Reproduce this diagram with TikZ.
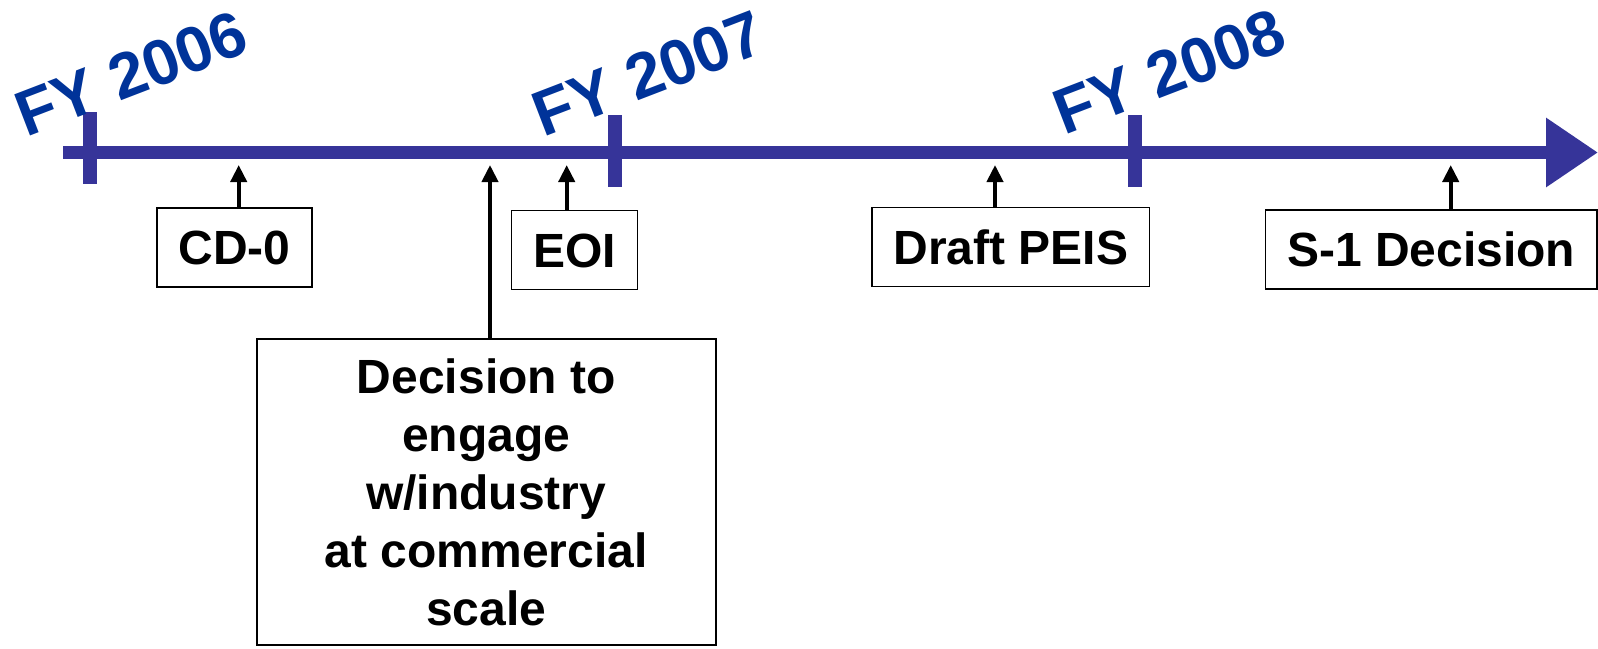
\documentclass[tikz,border=0pt]{standalone}
\usepackage{fontspec}
\setmainfont{Liberation Sans}
\usetikzlibrary{arrows.meta}
\definecolor{axisblue}{RGB}{54,52,153}
\definecolor{yearblue}{RGB}{0,51,153}

\begin{document}
\begin{tikzpicture}[
  x=0.5pt, y=-0.5pt,
  event/.style={draw, line width=0.8pt, inner sep=0pt,
    font=\fontsize{24}{29}\selectfont\bfseries},
  short event/.style={event, minimum height=39.5pt, inner xsep=10.75pt,
    text height=17.2pt, text depth=0pt},
  long event/.style={event, align=center, minimum width=229.5pt, minimum height=153pt},
  year/.style={anchor=base west, inner sep=0pt, rotate=21, text=yearblue,
    font=\fontsize{32}{32}\selectfont\bfseries},
  yeartick/.style={draw=axisblue, line width=7pt},
  pointer/.style={line width=2pt, -{Triangle[length=8.5pt,width=8pt]}},
]
  \useasboundingbox (0,0) rectangle (1598,648);

  \coordinate (start) at (63,152.5);
  \coordinate (end) at (1598,152.5);
  \draw[axisblue, line width=6.65pt, -{Triangle[length=26pt,width=33pt]}] (start) -- (end);

  \foreach \fy/\x/\top/\lx/\ly in {2006/89.7/112/26/137.6, 2007/615/115/543/137.6,
                                    2008/1135/115/1064/135.6} {
    \coordinate (t\fy) at (\x,\top);
    \coordinate (b\fy) at (\x,\top+72);
    \draw[yeartick] (t\fy) -- (b\fy);
    \node[year] (fy\fy) at (\lx,\ly) {FY \fy};
  }

  \foreach \name/\x/\y/\px/\txt in {cd0/234.5/247.5/238.7/CD-0, eoi/574.5/250/566.7/EOI,
                                    peis/1010.8/247/995/Draft PEIS,
                                    sone/1431.2/249.7/1450.7/S-1 Decision} {
    \node[short event] (\name) at (\x,\y) {\txt};
    \coordinate (p\name) at (\px,165);
    \draw[pointer] (\name.north -| p\name) -- (p\name);
  }

  \node[long event] (engage) at (486.3,492)
    {Decision to\\engage\\w/industry\\at commercial\\scale};
  \coordinate (pengage) at (490,165);
  \draw[pointer] (engage.north -| pengage) -- (pengage);
\end{tikzpicture}
\end{document}
